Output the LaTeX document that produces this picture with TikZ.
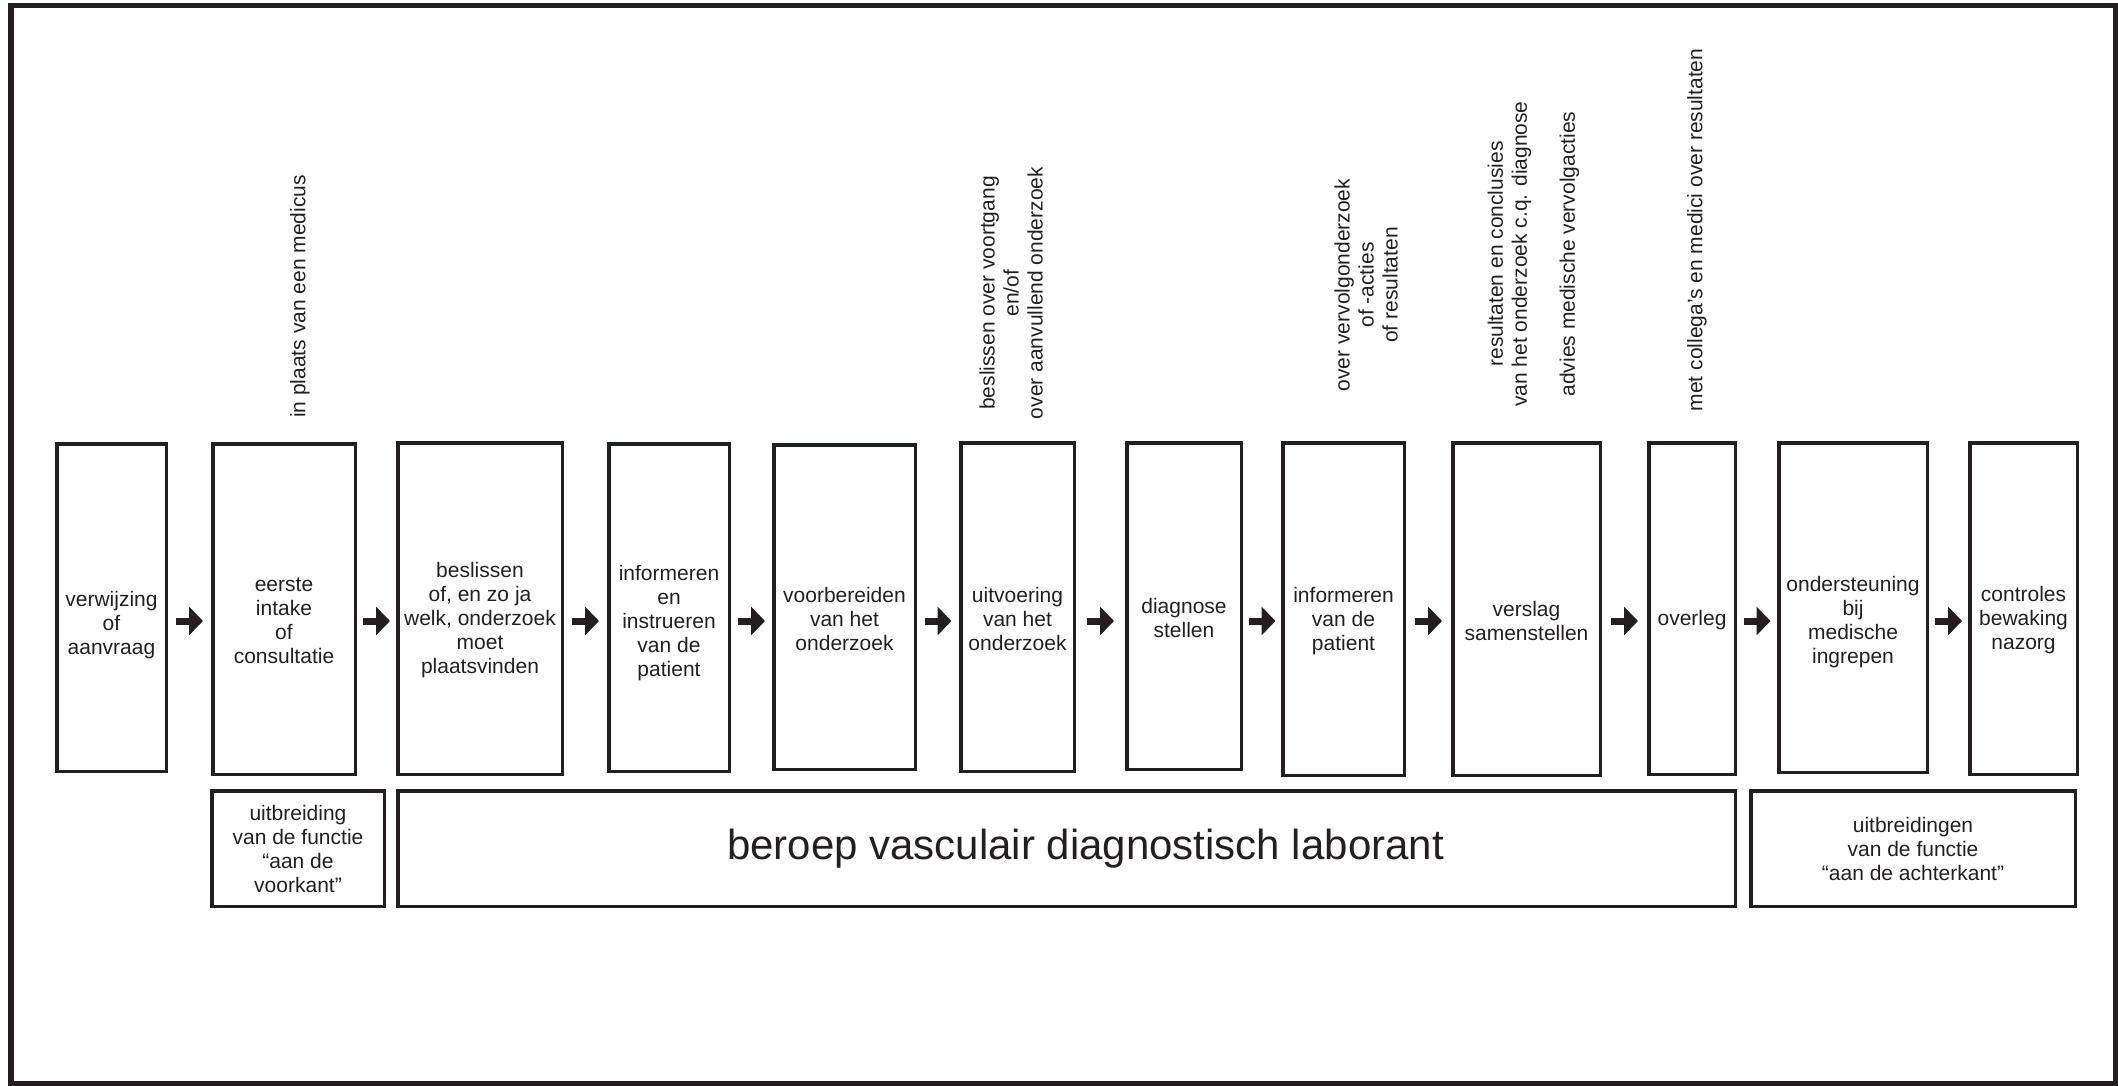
\documentclass[tikz,border=0pt]{standalone}
\usepackage{fontspec}
\setmainfont{Liberation Sans}
\usetikzlibrary{arrows.meta,calc}
\definecolor{ink}{RGB}{35,31,32}
\newcommand\stepflow[2]{%
  \draw[flowarr] let \p1=(#1.east), \p2=(#2.west) in
    ({(\x1+\x2)/2-13.5pt},-621pt) -- ({(\x1+\x2)/2+13.5pt},-621pt);}
\begin{document}
\begin{tikzpicture}[x=1pt,y=-1pt,
  every node/.style={text=ink},
  box/.style={draw=ink, line width=3.5pt, rectangle, inner sep=0pt},
  boxtext/.style={font=\fontsize{21}{24}\selectfont, align=center, yshift=-12pt, inner sep=0pt},
  lowtext/.style={font=\fontsize{21}{24}\selectfont, align=center, inner sep=0pt},
  bigtext/.style={font=\fontsize{42}{48}\selectfont, inner sep=0pt, xshift=19pt},
  rottext/.style={font=\fontsize{21}{24}\selectfont, align=center, rotate=90, inner sep=0pt},
  flowarr/.style={draw=ink, line width=7pt, -{Triangle[length=14pt,width=28pt]}}
]
\useasboundingbox (0,0) rectangle (2118,1086);
\draw[ink, line width=5.5pt] (11,5.5) rectangle (2115.5,1084);

% process steps
\node[box, minimum width=109.5pt, minimum height=327.5pt, label={[boxtext,yshift=-6pt]center:{verwijzing\\of\\aanvraag}}] (b1) at (111.5,607.5) {};
\node[box, minimum width=142.5pt, minimum height=330.5pt, label={[boxtext]center:{eerste\\intake\\of\\consultatie}}] (b2) at (284,609) {};
\node[box, minimum width=164.5pt, minimum height=331.5pt, label={[boxtext]center:{beslissen\\of, en zo ja\\welk, onderzoek\\moet\\plaatsvinden}}] (b3) at (480,608.5) {};
\node[box, minimum width=120.5pt, minimum height=327.5pt, label={[boxtext,yshift=-4pt]center:{informeren\\en\\instrueren\\van de\\patient}}] (b4) at (669,607.5) {};
\node[box, minimum width=141.5pt, minimum height=324.5pt, label={[boxtext]center:{voorbereiden\\van het\\onderzoek}}] (b5) at (844.5,607) {};
\node[box, minimum width=113.5pt, minimum height=328.5pt, label={[boxtext]center:{uitvoering\\van het\\onderzoek}}] (b6) at (1017.5,607) {};
\node[box, minimum width=114.5pt, minimum height=326.5pt, label={[boxtext]center:{diagnose\\stellen}}] (b7) at (1184,606) {};
\node[box, minimum width=121.5pt, minimum height=332.5pt, label={[boxtext]center:{informeren\\van de\\patient}}] (b8) at (1343.5,609) {};
\node[box, minimum width=147.5pt, minimum height=332.5pt, label={[boxtext]center:{verslag\\samenstellen}}] (b9) at (1526.5,609) {};
\node[box, minimum width=86.5pt, minimum height=331.5pt, label={[boxtext]center:{overleg}}] (b10) at (1692,608.5) {};
\node[box, minimum width=148.5pt, minimum height=329.5pt, label={[boxtext,yshift=-3pt]center:{ondersteuning\\bij\\medische\\ingrepen}}] (b11) at (1853,607.5) {};
\node[box, minimum width=107.5pt, minimum height=331.5pt, label={[boxtext]center:{controles\\bewaking\\nazorg}}] (b12) at (2023.5,608.5) {};

% arrows
\stepflow{b1}{b2}
\stepflow{b2}{b3}
\stepflow{b3}{b4}
\stepflow{b4}{b5}
\stepflow{b5}{b6}
\stepflow{b6}{b7}
\stepflow{b7}{b8}
\stepflow{b8}{b9}
\stepflow{b9}{b10}
\stepflow{b10}{b11}
\stepflow{b11}{b12}

% lower boxes
\node[box, minimum width=172.5pt, minimum height=115.5pt, label={[lowtext]center:{uitbreiding\\van de functie\\“aan de\\voorkant”}}] (l1) at (298,848.5) {};
\node[box, minimum width=1337.5pt, minimum height=115.5pt, label={[bigtext]center:{beroep vasculair diagnostisch laborant}}] (l2) at (1066.5,848.5) {};
\node[box, minimum width=324.5pt, minimum height=115.5pt, label={[lowtext]center:{uitbreidingen\\van de functie\\“aan de achterkant”}}] (l3) at (1913,848.5) {};

% rotated annotations
\node[rottext] (r1) at (300,296.5) {in plaats van een medicus};
\node[rottext] (r2) at (1011,293) {beslissen over voortgang\\en/of\\over aanvullend onderzoek};
\node[rottext] (r3) at (1366,285) {over vervolgonderzoek\\of -acties\\of resultaten};
\node[rottext] (r4) at (1533.5,254) {resultaten en conclusies\\van het onderzoek c.q. diagnose\\[24pt]advies medische vervolgacties};
\node[rottext] (r5) at (1697,230) {met collega’s en medici over resultaten};
\end{tikzpicture}
\end{document}
